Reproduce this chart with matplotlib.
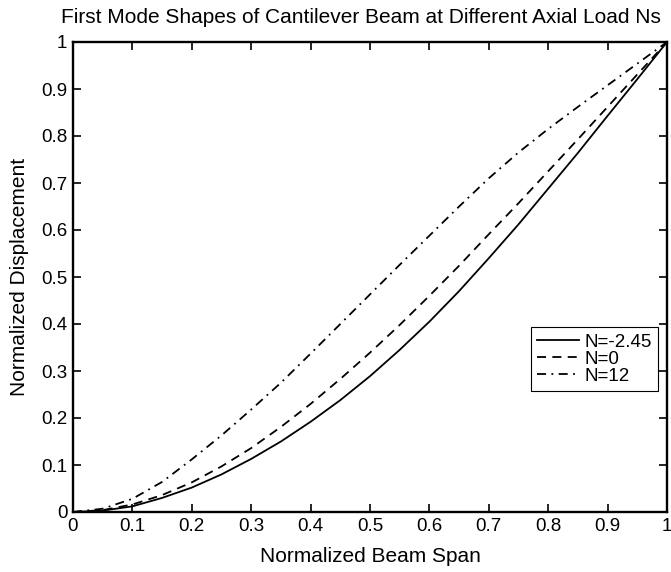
import matplotlib
matplotlib.use("Agg")
import matplotlib.pyplot as plt

plt.rcParams['font.family'] = ['Liberation Sans', 'DejaVu Sans']

span = [0.0, 0.05, 0.1, 0.15, 0.2, 0.25, 0.3, 0.35, 0.4, 0.45, 0.5,
        0.55, 0.6, 0.65, 0.7, 0.75, 0.8, 0.85, 0.9, 0.95, 1.0]
disp_n_neg245 = [0.0, 0.003, 0.012, 0.030, 0.052, 0.080, 0.113, 0.150, 0.192, 0.238, 0.289,
                 0.345, 0.405, 0.470, 0.540, 0.612, 0.688, 0.764, 0.843, 0.921, 1.0]
disp_n_0 = [0.0, 0.004, 0.016, 0.036, 0.063, 0.097, 0.136, 0.181, 0.230, 0.283, 0.339,
            0.398, 0.460, 0.524, 0.591, 0.657, 0.725, 0.793, 0.862, 0.931, 1.0]
disp_n_12 = [0.0, 0.007, 0.028, 0.064, 0.112, 0.163, 0.218, 0.275, 0.337, 0.400, 0.463,
             0.526, 0.588, 0.650, 0.710, 0.765, 0.815, 0.862, 0.908, 0.954, 1.0]
labels = ['N=-2.45', 'N=0', 'N=12']
ticks = [0, 0.1, 0.2, 0.3, 0.4, 0.5, 0.6, 0.7, 0.8, 0.9, 1]
ticklabels = ['0', '0.1', '0.2', '0.3', '0.4', '0.5', '0.6', '0.7', '0.8', '0.9', '1']
title = 'First Mode Shapes of Cantilever Beam at Different Axial Load Ns'

W, H = 671, 572
fig = plt.figure(figsize=(W / 100, H / 100), dpi=100)
ax = fig.add_axes([73 / W, 1 - 512 / H, (667 - 73) / W, (512 - 42) / H])

ax.plot(span, disp_n_neg245, color='black', lw=1.3, ls='-', label=labels[0])
ax.plot(span, disp_n_0, color='black', lw=1.3, ls=(0, (5, 3.5)), label=labels[1])
ax.plot(span, disp_n_12, color='black', lw=1.3, ls=(0, (5, 3, 1, 3)), label=labels[2])

ax.set_xlim(0, 1)
ax.set_ylim(0, 1)
ax.set_xticks(ticks)
ax.set_xticklabels(ticklabels)
ax.set_yticks(ticks)
ax.set_yticklabels(ticklabels)
ax.tick_params(direction='in', length=6, width=1.2, top=True, right=True,
               labelsize=13.5, pad=4)
for s in ax.spines.values():
    s.set_linewidth(1.7)

ax.set_xlabel('Normalized Beam Span', fontsize=15, labelpad=9)
ax.set_ylabel('Normalized Displacement', fontsize=15, labelpad=9)
fig.text(61 / W, 1 - 22.7 / H, title, fontsize=15, ha='left', va='baseline')

leg = ax.legend(loc='upper right', bbox_to_anchor=(0.985, 0.394), fontsize=13.5,
                frameon=True, fancybox=False, edgecolor='black', framealpha=1,
                handlelength=2.2, handletextpad=0.3, labelspacing=0.0,
                borderpad=0.35, borderaxespad=0.0)
leg.get_frame().set_linewidth(0.8)

fig.savefig('out.png', dpi=100)
